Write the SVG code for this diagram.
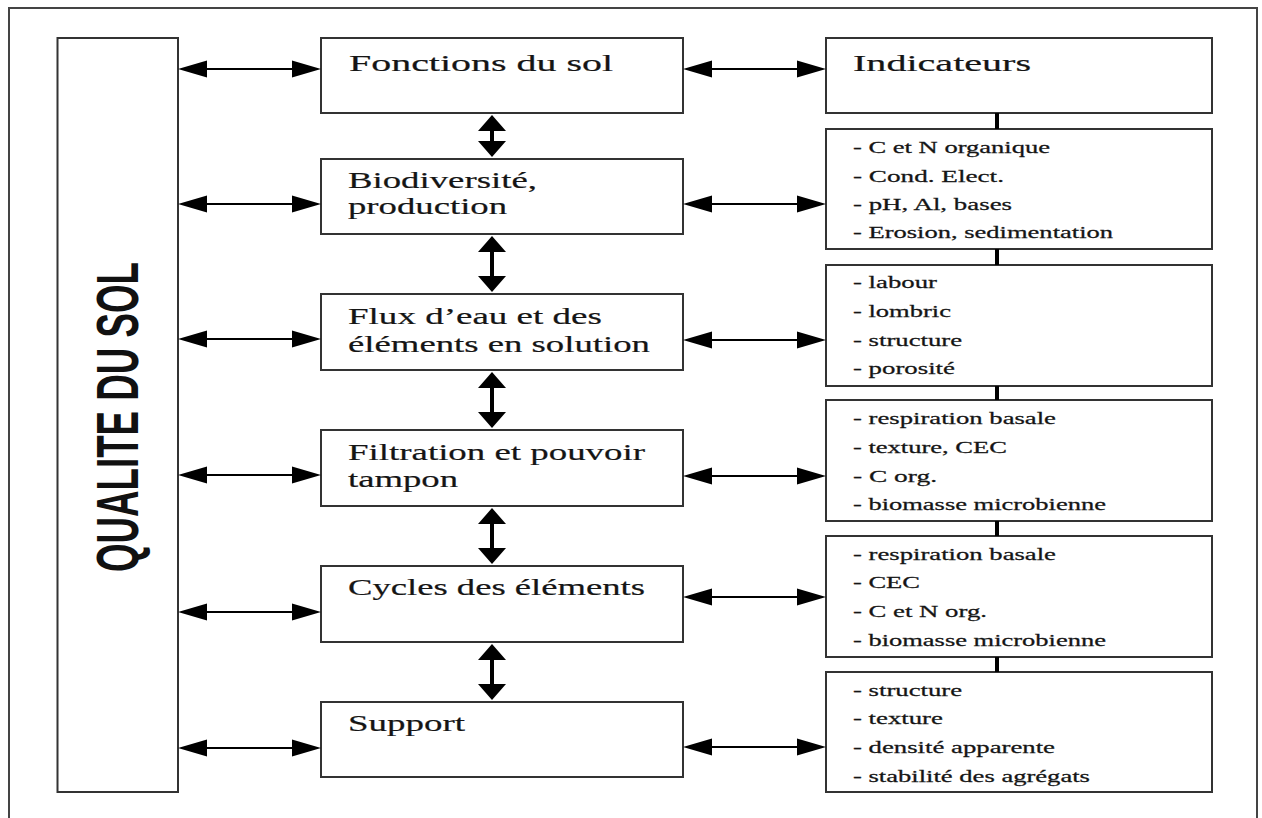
<svg xmlns="http://www.w3.org/2000/svg" width="1262" height="818" viewBox="0 0 1262 818">
<style>
.box{fill:#fff;stroke:#333;stroke-width:2}
.frame{fill:none;stroke:#444;stroke-width:2}
.t{font-family:"Liberation Serif","Times New Roman",serif;font-size:24px;fill:#151515;stroke:#151515;stroke-width:0.2}
.l{font-family:"Liberation Serif","Times New Roman",serif;font-size:16.5px;fill:#151515;stroke:#151515;stroke-width:0.25}
.q{font-family:"Liberation Sans",Arial,sans-serif;font-size:60px;font-weight:bold;fill:#111}
.h{stroke:#000;stroke-width:2;fill:none}
.v{stroke:#000;stroke-width:4;fill:none}
.ah{fill:#000}
</style>
<rect class="frame" x="9" y="8" width="1248" height="820"/>
<g id="qualite">
<rect class="box" x="57.5" y="38" width="120.5" height="754"/>
<text class="q" transform="translate(138,572) rotate(-90)" textLength="310" lengthAdjust="spacingAndGlyphs">QUALITE DU SOL</text>
</g>
<g id="fonctions"><rect class="box" x="321" y="38" width="362" height="75"/><text class="t" transform="translate(349,71) scale(1.65,1)" textLength="160" lengthAdjust="spacingAndGlyphs">Fonctions du sol</text></g>
<g id="biodiversite"><rect class="box" x="321" y="159" width="362" height="75"/><text class="t" transform="translate(348,188) scale(1.65,1)" textLength="114.5" lengthAdjust="spacingAndGlyphs">Biodiversité,</text><text class="t" transform="translate(348,214) scale(1.65,1)" textLength="96.4" lengthAdjust="spacingAndGlyphs">production</text></g>
<g id="flux"><rect class="box" x="321" y="294" width="362" height="76"/><text class="t" transform="translate(348,324) scale(1.65,1)" textLength="153.9" lengthAdjust="spacingAndGlyphs">Flux d’eau et des</text><text class="t" transform="translate(348,352) scale(1.65,1)" textLength="183" lengthAdjust="spacingAndGlyphs">éléments en solution</text></g>
<g id="filtration"><rect class="box" x="321" y="430" width="362" height="76"/><text class="t" transform="translate(348,460) scale(1.65,1)" textLength="180" lengthAdjust="spacingAndGlyphs">Filtration et pouvoir</text><text class="t" transform="translate(348,487) scale(1.65,1)" textLength="66.7" lengthAdjust="spacingAndGlyphs">tampon</text></g>
<g id="cycles"><rect class="box" x="321" y="566" width="362" height="76"/><text class="t" transform="translate(348,595) scale(1.65,1)" textLength="180" lengthAdjust="spacingAndGlyphs">Cycles des éléments</text></g>
<g id="support"><rect class="box" x="321" y="702" width="362" height="75"/><text class="t" transform="translate(348,731) scale(1.65,1)" textLength="70.9" lengthAdjust="spacingAndGlyphs">Support</text></g>
<g id="indicateurs"><rect class="box" x="826" y="38" width="386" height="75"/><text class="t" transform="translate(853,71) scale(1.65,1)" textLength="107.9" lengthAdjust="spacingAndGlyphs">Indicateurs</text></g>
<g id="ind-biodiversite"><rect class="box" x="826" y="129" width="386" height="120"/>
<text class="l" transform="translate(853,153) scale(1.65,1)" textLength="119.4" lengthAdjust="spacingAndGlyphs">- C et N organique</text>
<text class="l" transform="translate(853,182) scale(1.65,1)" textLength="91.5" lengthAdjust="spacingAndGlyphs">- Cond. Elect.</text>
<text class="l" transform="translate(853,210) scale(1.65,1)" textLength="96.4" lengthAdjust="spacingAndGlyphs">- pH, Al, bases</text>
<text class="l" transform="translate(853,238) scale(1.65,1)" textLength="157.6" lengthAdjust="spacingAndGlyphs">- Erosion, sedimentation</text></g>
<g id="ind-flux"><rect class="box" x="826" y="265" width="386" height="121"/>
<text class="l" transform="translate(853,288) scale(1.65,1)" textLength="50.9" lengthAdjust="spacingAndGlyphs">- labour</text>
<text class="l" transform="translate(853,317) scale(1.65,1)" textLength="59.4" lengthAdjust="spacingAndGlyphs">- lombric</text>
<text class="l" transform="translate(853,346) scale(1.65,1)" textLength="66.1" lengthAdjust="spacingAndGlyphs">- structure</text>
<text class="l" transform="translate(853,374) scale(1.65,1)" textLength="61.8" lengthAdjust="spacingAndGlyphs">- porosité</text></g>
<g id="ind-filtration"><rect class="box" x="826" y="400" width="386" height="121"/>
<text class="l" transform="translate(853,424) scale(1.65,1)" textLength="123" lengthAdjust="spacingAndGlyphs">- respiration basale</text>
<text class="l" transform="translate(853,453) scale(1.65,1)" textLength="93.3" lengthAdjust="spacingAndGlyphs">- texture, CEC</text>
<text class="l" transform="translate(853,482) scale(1.65,1)" textLength="50.9" lengthAdjust="spacingAndGlyphs">- C org.</text>
<text class="l" transform="translate(853,510) scale(1.65,1)" textLength="153.3" lengthAdjust="spacingAndGlyphs">- biomasse microbienne</text></g>
<g id="ind-cycles"><rect class="box" x="826" y="536" width="386" height="121"/>
<text class="l" transform="translate(853,560) scale(1.65,1)" textLength="123" lengthAdjust="spacingAndGlyphs">- respiration basale</text>
<text class="l" transform="translate(853,588) scale(1.65,1)" textLength="40.6" lengthAdjust="spacingAndGlyphs">- CEC</text>
<text class="l" transform="translate(853,617) scale(1.65,1)" textLength="81.2" lengthAdjust="spacingAndGlyphs">- C et N org.</text>
<text class="l" transform="translate(853,646) scale(1.65,1)" textLength="153.3" lengthAdjust="spacingAndGlyphs">- biomasse microbienne</text></g>
<g id="ind-support"><rect class="box" x="826" y="672" width="386" height="120"/>
<text class="l" transform="translate(853,696) scale(1.65,1)" textLength="66.1" lengthAdjust="spacingAndGlyphs">- structure</text>
<text class="l" transform="translate(853,724) scale(1.65,1)" textLength="54.5" lengthAdjust="spacingAndGlyphs">- texture</text>
<text class="l" transform="translate(853,753) scale(1.65,1)" textLength="122.4" lengthAdjust="spacingAndGlyphs">- densité apparente</text>
<text class="l" transform="translate(853,782) scale(1.65,1)" textLength="143.6" lengthAdjust="spacingAndGlyphs">- stabilité des agrégats</text></g>
<g id="connectors">
<g>
<path class="h" d="M200 69H300M200 204H300M200 339H300M200 475H300M200 612H300M200 748H300"/>
<path class="ah" d="M178 69l29 -8.5v17zM321 69l-29 -8.5v17z"/>
<path class="ah" d="M178 204l29 -8.5v17zM321 204l-29 -8.5v17z"/>
<path class="ah" d="M178 339l29 -8.5v17zM321 339l-29 -8.5v17z"/>
<path class="ah" d="M178 475l29 -8.5v17zM321 475l-29 -8.5v17z"/>
<path class="ah" d="M178 612l29 -8.5v17zM321 612l-29 -8.5v17z"/>
<path class="ah" d="M178 748l29 -8.5v17zM321 748l-29 -8.5v17z"/>
</g>
<g>
<path class="h" d="M705 69H805M705 204H805M705 340H805M705 476H805M705 597H805M705 747H805"/>
<path class="ah" d="M683 69l29 -8.5v17zM826 69l-29 -8.5v17z"/>
<path class="ah" d="M683 204l29 -8.5v17zM826 204l-29 -8.5v17z"/>
<path class="ah" d="M683 340l29 -8.5v17zM826 340l-29 -8.5v17z"/>
<path class="ah" d="M683 476l29 -8.5v17zM826 476l-29 -8.5v17z"/>
<path class="ah" d="M683 597l29 -8.5v17zM826 597l-29 -8.5v17z"/>
<path class="ah" d="M683 747l29 -8.5v17zM826 747l-29 -8.5v17z"/>
</g>
<g>
<path class="v" d="M492 128V144M492 248V280M492 384V416M492 520V552M492 656V688"/>
<path class="ah" d="M492 115l14 16h-28zM492 157l14 -16h-28z"/>
<path class="ah" d="M492 236l14 16h-28zM492 292l14 -16h-28z"/>
<path class="ah" d="M492 372l14 16h-28zM492 428l14 -16h-28z"/>
<path class="ah" d="M492 508l14 16h-28zM492 564l14 -16h-28z"/>
<path class="ah" d="M492 644l14 16h-28zM492 700l14 -16h-28z"/>
</g>
<path class="v" d="M997 113V129M997 249V265M997 386V400M997 521V536M997 657V672"/>
</g>
</svg>
